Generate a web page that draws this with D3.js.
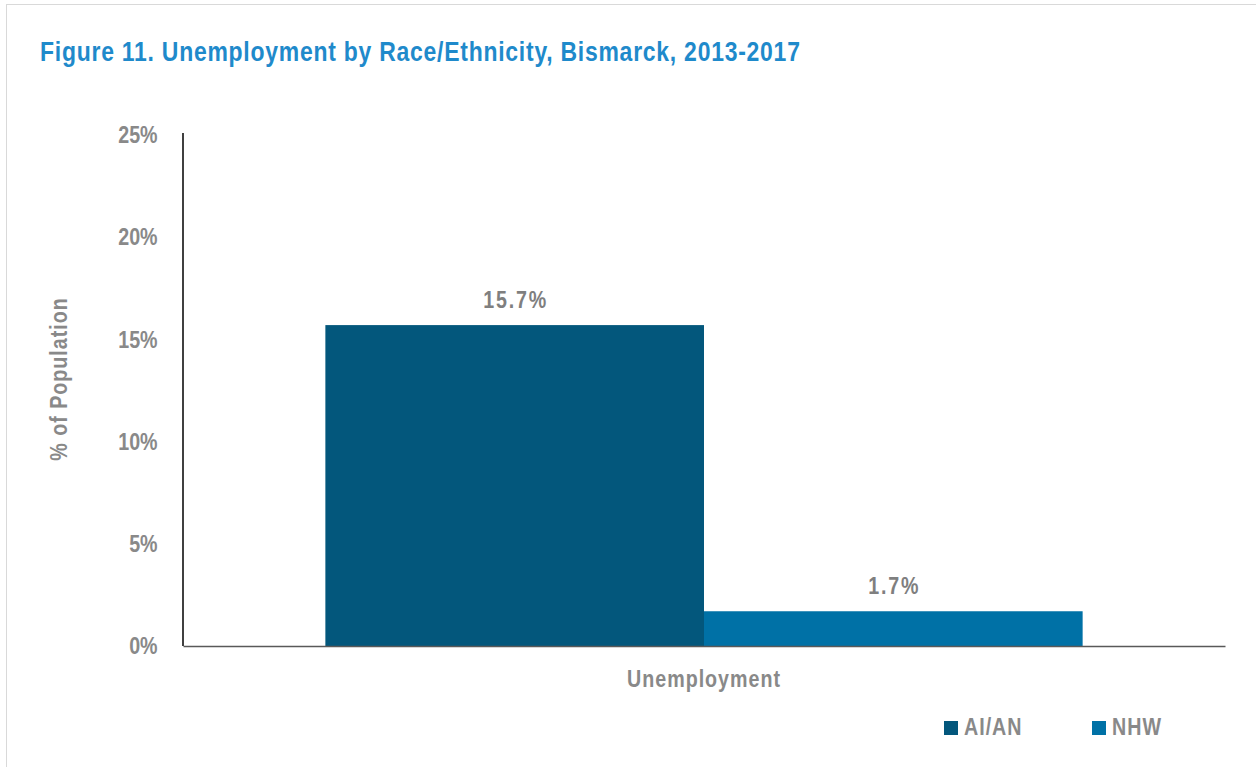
<!DOCTYPE html>
<html><head><meta charset="utf-8">
<script src="https://cdn.jsdelivr.net/npm/d3@7"></script>
<style>
body{margin:0;background:#fff;}
text{font-family:"Liberation Sans",Arial,sans-serif;font-weight:bold;}
</style></head>
<body><svg id="c" width="1256" height="767"></svg>
<script>
const categories = ["Unemployment"];
const seriesNames = ["AI/AN", "NHW"];
const seriesValues = [15.7, 1.7];
const seriesColors = ["#03577C", "#0071A6"];
const yTicks = [0, 5, 10, 15, 20, 25];

(function(){
const SX = 0.82; // narrow
const gray = "#898989";
const svg = d3.select("#c");
svg.append("rect").attr("x",6.5).attr("y",4.5).attr("width",1260).attr("height",780)
  .attr("fill","none").attr("stroke","#d9d9d9").attr("stroke-width",1);

function ntext(parent, x, y, size, color, anchor, str, ls){
  return parent.append("text")
    .attr("transform",`translate(${x},${y}) scale(${SX},1)`)
    .attr("text-anchor",anchor).attr("fill",color).attr("font-size",size)
    .attr("letter-spacing",ls||0).text(str);
}

ntext(svg, 40, 61, 28, "#1F8ACB", "start", "Figure 11. Unemployment by Race/Ethnicity, Bismarck, 2013-2017", 0.92);

const pL=183, pR=1225, pT=135, pB=646;
const y = d3.scaleLinear().domain([0,25]).range([pB,pT]);
const x0 = d3.scaleBand().domain(categories).range([pL,pR]).paddingInner(0).paddingOuter(0.188);
const x1 = d3.scaleBand().domain(seriesNames).range([0,x0.bandwidth()]);

const yAxis = svg.append("g").attr("transform",`translate(${pL},0)`)
  .call(d3.axisLeft(y).tickValues(yTicks).tickFormat(d=>d+"%").tickSize(0).tickPadding(31));
yAxis.select(".domain").remove();
yAxis.selectAll("text").attr("fill",gray).attr("font-size",24).attr("transform",`scale(${SX},1)`);

svg.append("line").attr("x1",pL).attr("x2",pL).attr("y1",133).attr("y2",pB)
  .attr("stroke","#000").attr("stroke-width",1.5);

const g = svg.append("g");
categories.forEach(c=>{
  seriesNames.forEach((s,i)=>{
    g.append("rect").attr("x",x0(c)+x1(s)).attr("y",y(seriesValues[i]))
      .attr("width",x1.bandwidth()).attr("height",pB-y(seriesValues[i]))
      .attr("fill",seriesColors[i]);
    ntext(g, x0(c)+x1(s)+x1.bandwidth()/2 + 1, y(seriesValues[i])-17, 24, "#7f7f7f", "middle",
      seriesValues[i].toFixed(1)+"%", 2.2);
  });
});

const xAxis = svg.append("g").attr("transform",`translate(0,${pB})`)
  .call(d3.axisBottom(x0).tickSize(0));
xAxis.select(".domain").attr("stroke","#595959").attr("stroke-width",1.5);
xAxis.selectAll("text").attr("fill",gray).attr("font-size",24).attr("y",41).attr("dy",0)
  .attr("letter-spacing",1.2).attr("transform",`scale(${SX},1)`);

svg.append("text").attr("transform",`translate(67,379) rotate(-90) scale(${SX},1)`).attr("text-anchor","middle")
  .attr("fill",gray).attr("font-size",24).attr("letter-spacing",1.2).text("% of Population");

const legX=[944,1092];
seriesNames.forEach((s,i)=>{
  svg.append("rect").attr("x",legX[i]).attr("y",721).attr("width",14).attr("height",14).attr("fill",seriesColors[i]);
  ntext(svg, legX[i]+20, 735, 24, gray, "start", s, 1.2);
});
})();
</script></body></html>
